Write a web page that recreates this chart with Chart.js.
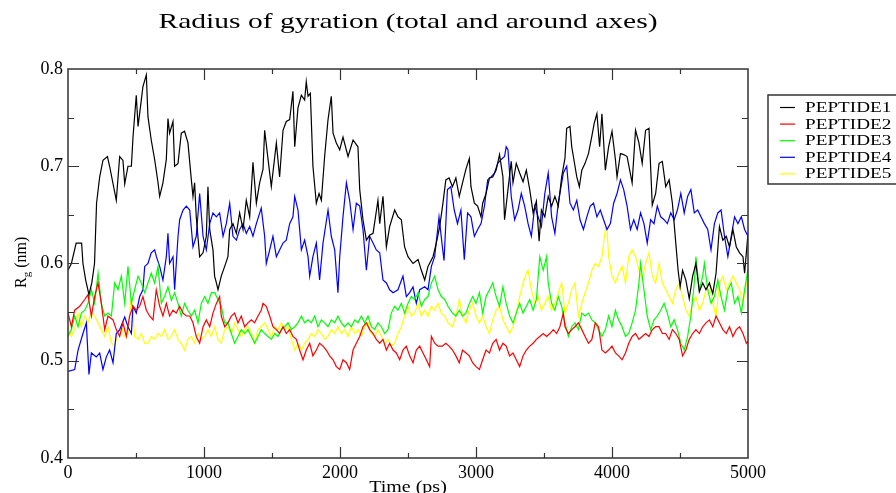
<!DOCTYPE html>
<html lang="en">
<head>
<meta charset="UTF-8">
<title>Radius of gyration</title>
<script src="https://cdn.jsdelivr.net/npm/chart.js"></script>
<style>
  html, body {margin:0; padding:0; background:#fff;}
  canvas {display:block;}
</style>
</head>
<body>
<canvas id="rg" width="896" height="493"></canvas>
<script>
// [time (ps), Rg (nm)]
const PEPTIDE1 = [[0,0.593],[25,0.600],[60,0.621],[100,0.621],[110,0.600],[130,0.583],[154,0.568],[175,0.580],[195,0.600],
  [210,0.662],[233,0.689],[257,0.706],[290,0.710],[306,0.700],[355,0.665],[380,0.710],[404,0.706],[417,0.682],[441,0.700],
  [466,0.700],[478,0.730],[502,0.773],[515,0.741],[539,0.768],[551,0.782],[576,0.794],[588,0.751],[612,0.727],[637,0.707],
  [662,0.683],[674,0.669],[698,0.683],[723,0.707],[735,0.749],[747,0.734],[772,0.746],[784,0.700],[809,0.703],[833,0.734],
  [857,0.736],[882,0.724],[907,0.686],[919,0.669],[931,0.683],[943,0.648],[968,0.607],[993,0.611],[1017,0.628],[1029,0.679],
  [1042,0.635],[1066,0.614],[1078,0.587],[1091,0.580],[1103,0.573],[1127,0.587],[1152,0.597],[1176,0.607],[1189,0.635],
  [1213,0.641],[1238,0.631],[1262,0.652],[1287,0.635],[1311,0.665],[1336,0.648],[1360,0.704],[1385,0.662],[1409,0.683],
  [1434,0.697],[1446,0.737],[1471,0.707],[1495,0.679],[1532,0.724],[1556,0.689],[1581,0.737],[1605,0.746],[1630,0.748],
  [1654,0.777],[1667,0.720],[1691,0.760],[1716,0.773],[1740,0.768],[1752,0.787],[1765,0.772],[1782,0.775],[1801,0.700],
  [1826,0.662],[1846,0.672],[1863,0.665],[1887,0.710],[1912,0.748],[1936,0.772],[1949,0.734],[1973,0.724],[1998,0.717],
  [2022,0.730],[2059,0.710],[2096,0.727],[2132,0.720],[2145,0.676],[2169,0.645],[2194,0.624],[2218,0.629],[2243,0.631],
  [2279,0.665],[2292,0.641],[2316,0.669],[2341,0.617],[2365,0.638],[2402,0.655],[2426,0.648],[2451,0.645],[2475,0.617],
  [2500,0.607],[2537,0.600],[2574,0.604],[2598,0.593],[2623,0.583],[2647,0.597],[2684,0.607],[2708,0.621],[2733,0.638],
  [2757,0.662],[2778,0.686],[2802,0.688],[2827,0.679],[2852,0.688],[2877,0.669],[2901,0.683],[2926,0.697],[2951,0.708],
  [2963,0.679],[2988,0.662],[3012,0.659],[3037,0.648],[3049,0.662],[3074,0.672],[3099,0.688],[3123,0.689],[3148,0.696],
  [3173,0.712],[3198,0.689],[3210,0.645],[3235,0.676],[3259,0.705],[3272,0.683],[3296,0.703],[3321,0.693],[3346,0.684],
  [3370,0.696],[3395,0.676],[3420,0.652],[3444,0.664],[3464,0.623],[3481,0.655],[3506,0.648],[3531,0.669],[3556,0.659],
  [3580,0.669],[3605,0.659],[3630,0.689],[3654,0.708],[3667,0.739],[3691,0.741],[3704,0.720],[3716,0.710],[3741,0.689],
  [3760,0.679],[3778,0.696],[3802,0.703],[3827,0.713],[3852,0.731],[3869,0.744],[3889,0.754],[3909,0.720],[3926,0.754],
  [3951,0.696],[3975,0.720],[4000,0.736],[4025,0.707],[4037,0.689],[4062,0.713],[4086,0.712],[4111,0.710],[4148,0.683],
  [4173,0.737],[4198,0.724],[4222,0.703],[4247,0.737],[4272,0.739],[4296,0.660],[4321,0.672],[4346,0.703],[4370,0.705],
  [4395,0.679],[4420,0.686],[4444,0.662],[4457,0.641],[4469,0.621],[4486,0.593],[4501,0.576],[4519,0.593],[4543,0.583],
  [4568,0.564],[4593,0.587],[4617,0.600],[4642,0.571],[4667,0.580],[4691,0.573],[4716,0.580],[4741,0.569],[4765,0.590],
  [4790,0.638],[4815,0.624],[4840,0.628],[4864,0.617],[4889,0.635],[4914,0.617],[4938,0.611],[4963,0.607],[4975,0.590],
  [5000,0.631]];

const PEPTIDE2 = [[0,0.549],[25,0.535],[49,0.552],[86,0.556],[123,0.563],[147,0.568],[172,0.546],[196,0.566],[221,0.580],
  [245,0.559],[270,0.532],[294,0.546],[331,0.542],[355,0.532],[380,0.525],[404,0.539],[429,0.525],[453,0.546],[478,0.556],
  [502,0.552],[527,0.556],[551,0.566],[576,0.552],[600,0.546],[625,0.542],[649,0.573],[674,0.556],[698,0.546],[723,0.559],
  [747,0.546],[772,0.552],[796,0.549],[821,0.556],[846,0.549],[870,0.546],[895,0.546],[919,0.539],[943,0.525],[968,0.518],
  [993,0.535],[1017,0.542],[1042,0.535],[1066,0.549],[1091,0.559],[1115,0.566],[1127,0.546],[1152,0.535],[1176,0.539],
  [1201,0.546],[1225,0.549],[1250,0.539],[1274,0.546],[1299,0.535],[1323,0.539],[1348,0.542],[1372,0.539],[1397,0.546],
  [1421,0.552],[1434,0.559],[1458,0.556],[1483,0.546],[1507,0.535],[1532,0.532],[1556,0.528],[1581,0.535],[1605,0.528],
  [1630,0.532],[1654,0.525],[1679,0.522],[1703,0.511],[1728,0.501],[1752,0.511],[1777,0.518],[1801,0.505],[1826,0.511],
  [1850,0.518],[1875,0.515],[1899,0.511],[1924,0.505],[1949,0.501],[1973,0.494],[1998,0.491],[2022,0.501],[2047,0.498],
  [2071,0.491],[2096,0.511],[2120,0.518],[2145,0.525],[2169,0.535],[2194,0.539],[2218,0.532],[2243,0.528],[2267,0.522],
  [2292,0.518],[2316,0.522],[2341,0.511],[2365,0.518],[2390,0.511],[2414,0.508],[2439,0.501],[2463,0.511],[2488,0.515],
  [2512,0.505],[2537,0.498],[2561,0.511],[2586,0.515],[2610,0.508],[2635,0.501],[2659,0.494],[2672,0.525],[2696,0.518],
  [2721,0.515],[2753,0.515],[2778,0.518],[2802,0.515],[2827,0.511],[2852,0.505],[2877,0.498],[2901,0.511],[2926,0.508],
  [2951,0.505],[2975,0.498],[3000,0.494],[3025,0.491],[3049,0.501],[3074,0.511],[3099,0.508],[3123,0.518],[3148,0.522],
  [3173,0.511],[3198,0.518],[3222,0.515],[3247,0.505],[3272,0.508],[3296,0.501],[3321,0.494],[3346,0.505],[3370,0.511],
  [3395,0.515],[3420,0.518],[3444,0.522],[3469,0.525],[3494,0.528],[3519,0.525],[3543,0.528],[3568,0.532],[3593,0.528],
  [3617,0.535],[3642,0.549],[3654,0.535],[3679,0.528],[3704,0.532],[3728,0.535],[3753,0.539],[3778,0.532],[3802,0.525],
  [3827,0.518],[3852,0.522],[3877,0.539],[3901,0.535],[3926,0.511],[3951,0.508],[3975,0.511],[4000,0.515],[4025,0.508],
  [4049,0.505],[4074,0.501],[4099,0.508],[4123,0.518],[4148,0.525],[4173,0.528],[4198,0.522],[4222,0.525],[4247,0.528],
  [4272,0.525],[4296,0.532],[4321,0.535],[4346,0.535],[4370,0.528],[4395,0.528],[4420,0.522],[4444,0.532],[4469,0.528],
  [4494,0.522],[4519,0.505],[4543,0.511],[4568,0.522],[4593,0.528],[4617,0.532],[4642,0.528],[4667,0.535],[4691,0.539],
  [4716,0.542],[4741,0.535],[4765,0.546],[4790,0.539],[4815,0.532],[4840,0.528],[4864,0.535],[4889,0.525],[4914,0.532],
  [4938,0.535],[4963,0.528],[4988,0.518],[5000,0.520]];

const PEPTIDE3 = [[0,0.525],[25,0.532],[49,0.546],[74,0.535],[98,0.549],[123,0.552],[147,0.559],[172,0.573],[196,0.559],
  [221,0.590],[245,0.559],[270,0.546],[294,0.549],[319,0.546],[343,0.580],[368,0.573],[392,0.587],[417,0.559],[441,0.597],
  [466,0.559],[490,0.573],[515,0.587],[539,0.580],[564,0.570],[588,0.580],[612,0.590],[637,0.580],[662,0.597],[686,0.559],
  [710,0.566],[735,0.576],[760,0.562],[784,0.570],[809,0.559],[833,0.546],[857,0.559],[882,0.552],[907,0.546],[931,0.552],
  [956,0.539],[980,0.559],[1005,0.566],[1029,0.559],[1054,0.570],[1078,0.570],[1103,0.563],[1127,0.556],[1152,0.539],
  [1176,0.539],[1201,0.528],[1225,0.518],[1250,0.525],[1274,0.532],[1299,0.528],[1323,0.532],[1348,0.525],[1372,0.518],
  [1397,0.525],[1421,0.532],[1446,0.528],[1471,0.525],[1495,0.522],[1520,0.528],[1544,0.525],[1569,0.532],[1593,0.535],
  [1618,0.539],[1642,0.532],[1667,0.535],[1691,0.539],[1716,0.546],[1740,0.539],[1765,0.542],[1789,0.539],[1814,0.546],
  [1838,0.535],[1863,0.542],[1887,0.539],[1912,0.535],[1936,0.542],[1961,0.539],[1985,0.546],[2010,0.539],[2034,0.535],
  [2059,0.539],[2083,0.535],[2108,0.542],[2132,0.539],[2157,0.546],[2181,0.539],[2206,0.546],[2230,0.535],[2255,0.532],
  [2279,0.539],[2304,0.535],[2328,0.528],[2353,0.532],[2377,0.549],[2402,0.556],[2426,0.552],[2451,0.559],[2475,0.549],
  [2500,0.559],[2524,0.566],[2549,0.563],[2574,0.570],[2598,0.556],[2623,0.563],[2647,0.566],[2672,0.580],[2696,0.587],
  [2721,0.573],[2745,0.566],[2770,0.563],[2794,0.556],[2827,0.549],[2852,0.546],[2877,0.552],[2901,0.546],[2926,0.549],
  [2951,0.559],[2975,0.566],[3000,0.559],[3025,0.570],[3049,0.549],[3074,0.566],[3099,0.573],[3123,0.580],[3148,0.566],
  [3173,0.556],[3198,0.576],[3222,0.559],[3247,0.546],[3272,0.539],[3296,0.549],[3321,0.559],[3346,0.549],[3370,0.556],
  [3395,0.563],[3420,0.552],[3444,0.563],[3469,0.607],[3494,0.593],[3519,0.607],[3531,0.580],[3556,0.559],[3580,0.552],
  [3605,0.566],[3630,0.556],[3654,0.539],[3679,0.525],[3704,0.535],[3728,0.539],[3753,0.532],[3778,0.549],[3802,0.546],
  [3827,0.549],[3852,0.542],[3877,0.539],[3901,0.532],[3926,0.525],[3951,0.532],[3975,0.546],[4000,0.535],[4025,0.552],
  [4049,0.542],[4074,0.535],[4099,0.525],[4123,0.528],[4148,0.539],[4173,0.552],[4198,0.580],[4210,0.600],[4235,0.573],
  [4259,0.546],[4284,0.532],[4309,0.542],[4333,0.546],[4358,0.552],[4383,0.559],[4407,0.549],[4432,0.535],[4457,0.542],
  [4481,0.532],[4506,0.518],[4531,0.511],[4556,0.525],[4580,0.546],[4605,0.580],[4617,0.607],[4642,0.573],[4667,0.587],
  [4679,0.600],[4704,0.573],[4728,0.559],[4753,0.566],[4778,0.583],[4802,0.566],[4827,0.552],[4852,0.573],[4877,0.580],
  [4901,0.559],[4926,0.566],[4951,0.549],[4975,0.573],[5000,0.594]];

const PEPTIDE4 = [[0,0.489],[49,0.491],[74,0.511],[110,0.528],[135,0.539],[154,0.486],[172,0.508],[208,0.504],[233,0.508],
  [257,0.491],[282,0.504],[306,0.511],[331,0.498],[355,0.528],[380,0.532],[417,0.545],[441,0.535],[466,0.528],[478,0.556],
  [502,0.549],[527,0.566],[551,0.573],[564,0.597],[588,0.600],[612,0.611],[637,0.614],[650,0.607],[674,0.597],[698,0.583],
  [723,0.607],[735,0.631],[747,0.600],[772,0.607],[784,0.573],[809,0.628],[821,0.645],[846,0.655],[870,0.659],[895,0.655],
  [919,0.617],[943,0.628],[968,0.672],[993,0.628],[1017,0.614],[1042,0.641],[1066,0.652],[1091,0.648],[1115,0.652],
  [1140,0.628],[1164,0.641],[1189,0.662],[1213,0.628],[1238,0.624],[1262,0.635],[1287,0.641],[1311,0.631],[1336,0.638],
  [1360,0.628],[1385,0.641],[1421,0.657],[1446,0.628],[1458,0.600],[1483,0.614],[1507,0.628],[1532,0.607],[1556,0.614],
  [1581,0.621],[1605,0.624],[1630,0.641],[1654,0.648],[1667,0.669],[1691,0.655],[1716,0.614],[1740,0.624],[1765,0.607],
  [1777,0.587],[1801,0.607],[1826,0.621],[1850,0.583],[1875,0.621],[1912,0.655],[1936,0.628],[1961,0.614],[1985,0.570],
  [1998,0.607],[2022,0.648],[2047,0.683],[2071,0.665],[2096,0.635],[2120,0.662],[2145,0.659],[2169,0.635],[2194,0.593],
  [2218,0.628],[2243,0.621],[2267,0.614],[2292,0.611],[2316,0.583],[2341,0.580],[2365,0.573],[2390,0.570],[2426,0.573],
  [2463,0.587],[2488,0.566],[2512,0.570],[2537,0.576],[2561,0.559],[2586,0.573],[2623,0.576],[2647,0.573],[2672,0.597],
  [2696,0.607],[2728,0.648],[2753,0.617],[2765,0.603],[2790,0.676],[2815,0.679],[2840,0.655],[2864,0.641],[2889,0.655],
  [2914,0.604],[2938,0.652],[2963,0.648],[2988,0.628],[3012,0.635],[3037,0.641],[3062,0.659],[3086,0.686],[3111,0.689],
  [3136,0.693],[3160,0.703],[3185,0.707],[3210,0.710],[3222,0.720],[3235,0.717],[3259,0.669],[3284,0.645],[3309,0.655],
  [3333,0.672],[3358,0.659],[3383,0.641],[3407,0.628],[3432,0.659],[3457,0.648],[3481,0.638],[3506,0.672],[3531,0.693],
  [3556,0.648],[3580,0.631],[3605,0.662],[3642,0.693],[3667,0.700],[3691,0.662],[3716,0.655],[3741,0.665],[3765,0.645],
  [3790,0.635],[3815,0.648],[3840,0.659],[3864,0.662],[3889,0.648],[3914,0.655],[3938,0.645],[3963,0.635],[3988,0.641],
  [4012,0.662],[4037,0.672],[4062,0.686],[4086,0.676],[4111,0.659],[4136,0.635],[4160,0.645],[4185,0.635],[4210,0.652],
  [4235,0.641],[4259,0.621],[4284,0.645],[4309,0.641],[4333,0.659],[4358,0.648],[4383,0.645],[4407,0.641],[4432,0.652],
  [4457,0.645],[4481,0.655],[4506,0.672],[4531,0.652],[4556,0.669],[4580,0.676],[4605,0.652],[4630,0.655],[4654,0.648],
  [4679,0.641],[4704,0.635],[4728,0.614],[4753,0.641],[4778,0.652],[4802,0.655],[4827,0.628],[4852,0.607],[4877,0.628],
  [4901,0.648],[4926,0.641],[4951,0.648],[4975,0.635],[5000,0.628]];

const PEPTIDE5 = [[0,0.535],[25,0.525],[49,0.532],[74,0.549],[98,0.535],[123,0.546],[147,0.539],[172,0.549],[196,0.546],
  [221,0.539],[245,0.532],[270,0.525],[294,0.535],[319,0.518],[343,0.515],[368,0.528],[392,0.535],[417,0.525],[441,0.528],
  [466,0.566],[490,0.525],[515,0.522],[539,0.528],[564,0.518],[588,0.518],[612,0.525],[637,0.522],[662,0.528],[686,0.525],
  [710,0.532],[735,0.522],[760,0.525],[784,0.532],[809,0.522],[833,0.518],[857,0.511],[882,0.522],[907,0.525],[931,0.518],
  [956,0.528],[980,0.522],[1005,0.525],[1029,0.532],[1054,0.525],[1078,0.535],[1103,0.522],[1127,0.518],[1152,0.532],
  [1176,0.535],[1201,0.528],[1225,0.539],[1250,0.532],[1274,0.525],[1299,0.532],[1323,0.535],[1348,0.528],[1372,0.518],
  [1397,0.532],[1421,0.535],[1446,0.539],[1471,0.532],[1495,0.525],[1520,0.535],[1544,0.532],[1569,0.539],[1593,0.532],
  [1618,0.535],[1642,0.522],[1667,0.511],[1691,0.518],[1716,0.511],[1740,0.518],[1765,0.522],[1789,0.528],[1814,0.525],
  [1838,0.532],[1863,0.528],[1887,0.522],[1912,0.525],[1936,0.532],[1961,0.528],[1985,0.535],[2010,0.528],[2034,0.532],
  [2059,0.525],[2083,0.535],[2108,0.528],[2132,0.532],[2157,0.525],[2181,0.535],[2206,0.539],[2230,0.528],[2255,0.525],
  [2279,0.532],[2304,0.525],[2328,0.518],[2353,0.522],[2377,0.515],[2402,0.518],[2426,0.528],[2451,0.535],[2475,0.546],
  [2500,0.556],[2524,0.546],[2549,0.549],[2574,0.559],[2598,0.546],[2623,0.552],[2647,0.546],[2672,0.556],[2696,0.552],
  [2721,0.559],[2745,0.549],[2770,0.546],[2794,0.539],[2827,0.535],[2852,0.546],[2877,0.563],[2901,0.546],[2926,0.539],
  [2951,0.552],[2975,0.559],[3000,0.546],[3025,0.539],[3049,0.546],[3074,0.535],[3099,0.528],[3123,0.542],[3148,0.552],
  [3173,0.556],[3198,0.542],[3222,0.535],[3247,0.528],[3272,0.535],[3296,0.549],[3321,0.566],[3346,0.580],[3370,0.590],
  [3383,0.593],[3407,0.573],[3432,0.559],[3457,0.566],[3481,0.552],[3506,0.559],[3531,0.566],[3556,0.552],[3580,0.559],
  [3605,0.570],[3630,0.580],[3654,0.549],[3679,0.559],[3704,0.573],[3728,0.580],[3753,0.546],[3778,0.559],[3802,0.570],
  [3827,0.580],[3852,0.593],[3877,0.600],[3901,0.597],[3926,0.607],[3951,0.635],[3963,0.638],[3975,0.607],[4000,0.587],
  [4025,0.580],[4049,0.590],[4074,0.597],[4099,0.580],[4123,0.607],[4148,0.614],[4173,0.607],[4198,0.593],[4222,0.583],
  [4247,0.600],[4272,0.611],[4296,0.587],[4321,0.580],[4346,0.600],[4370,0.580],[4395,0.573],[4420,0.566],[4444,0.559],
  [4469,0.573],[4494,0.580],[4519,0.566],[4543,0.552],[4568,0.546],[4593,0.559],[4617,0.566],[4642,0.552],[4667,0.559],
  [4691,0.573],[4716,0.580],[4741,0.559],[4765,0.546],[4790,0.580],[4815,0.587],[4840,0.573],[4864,0.580],[4889,0.587],
  [4914,0.580],[4938,0.573],[4963,0.559],[4988,0.580],[5000,0.575]];

const NAMES  = ['PEPTIDE1', 'PEPTIDE2', 'PEPTIDE3', 'PEPTIDE4', 'PEPTIDE5'];
const SERIES = [PEPTIDE1, PEPTIDE2, PEPTIDE3, PEPTIDE4, PEPTIDE5];
const COLORS = ['#000000', '#ff0000', '#00ff00', '#0000ff', '#ffff00'];

const X_TICKS = [0, 1000, 2000, 3000, 4000, 5000];
const Y_TICKS = [0.4, 0.5, 0.6, 0.7, 0.8];

const SERIF = '"Liberation Serif", "DejaVu Serif", serif';
const FRAME = '#333';

// grace output is wider than tall, so text gets stretched sideways
function wideText(ctx, str, x, y, size, sx, align) {
  ctx.save();
  ctx.font = size + 'px ' + SERIF;
  ctx.fillStyle = '#000';
  ctx.textAlign = align || 'left';
  ctx.textBaseline = 'alphabetic';
  ctx.translate(x, y);
  ctx.scale(sx, 1);
  ctx.fillText(str, 0, 0);
  ctx.restore();
}

const gracePlugin = {
  id: 'grace',
  afterDraw(chart) {
    const {ctx, chartArea: a, scales: {x, y}} = chart;
    ctx.save();

    // frame
    ctx.strokeStyle = FRAME;
    ctx.lineWidth = 1.5;
    ctx.strokeRect(a.left, a.top, a.right - a.left, a.bottom - a.top);

    // inward ticks on all four sides
    ctx.lineWidth = 1.2;
    ctx.beginPath();
    for (let t = 500; t < 5000; t += 500) {
      const px = Math.round(x.getPixelForValue(t)) + 0.5;
      const len = t % 1000 === 0 ? 11 : 5;
      ctx.moveTo(px, a.bottom); ctx.lineTo(px, a.bottom - len);
      ctx.moveTo(px, a.top);    ctx.lineTo(px, a.top + len);
    }
    for (let k = 1; k < 8; k++) {
      const py = Math.round(y.getPixelForValue(0.4 + k * 0.05)) + 0.5;
      const len = k % 2 === 0 ? 11 : 6;
      ctx.moveTo(a.left, py);  ctx.lineTo(a.left + len, py);
      ctx.moveTo(a.right, py); ctx.lineTo(a.right - len, py);
    }
    ctx.stroke();

    // title
    ctx.font = '21px ' + SERIF;
    const title = 'Radius of gyration (total and around axes)';
    const tw = ctx.measureText(title).width;
    wideText(ctx, title, (a.left + a.right) / 2, 28, 21, 499 / tw, 'center');

    // x axis title
    wideText(ctx, 'Time (ps)', (a.left + a.right) / 2, 492, 16, 1.25, 'center');

    // y axis title R_g (nm), rotated
    ctx.save();
    ctx.translate(26, 288);
    ctx.rotate(-Math.PI / 2);
    ctx.fillStyle = '#000';
    ctx.textBaseline = 'alphabetic';
    ctx.font = '16px ' + SERIF;
    ctx.fillText('R', 0, 0);
    let w = ctx.measureText('R').width;
    ctx.font = '11px ' + SERIF;
    ctx.fillText('g', w, 4);
    w += ctx.measureText('g').width;
    ctx.font = '16px ' + SERIF;
    ctx.fillText(' (nm)', w, 0);
    ctx.restore();

    // legend box
    const lx = 768, ly = 95, lh = 89, rowH = 16.6;
    ctx.strokeStyle = FRAME;
    ctx.lineWidth = 1.5;
    ctx.strokeRect(lx, ly, 140, lh);
    chart.data.datasets.forEach((ds, i) => {
      const ry = ly + 12 + i * rowH;
      ctx.strokeStyle = ds.borderColor;
      ctx.lineWidth = 1.2;
      ctx.beginPath();
      ctx.moveTo(780, ry + 0.5); ctx.lineTo(795, ry + 0.5);
      ctx.stroke();
      wideText(ctx, ds.label, 805, ry + 5, 15, 1.28, 'left');
    });

    ctx.restore();
  }
};

const datasets = NAMES.map((name, i) => ({
  label: name,
  data: SERIES[i].map(p => ({x: p[0], y: p[1]})),
  borderColor: COLORS[i],
  borderWidth: 1.2,
  pointRadius: 0,
  fill: false,
  tension: 0
}));

new Chart(document.getElementById('rg'), {
  type: 'line',
  data: {datasets},
  options: {
    responsive: false,
    animation: false,
    layout: {padding: {top: 69, right: 148, left: 0, bottom: 0}},
    plugins: {legend: {display: false}, tooltip: {enabled: false}},
    scales: {
      x: {
        type: 'linear', min: 0, max: 5000,
        afterFit: s => { s.height = 35; },
        afterBuildTicks: s => { s.ticks = X_TICKS.map(v => ({value: v})); },
        grid: {display: false, drawTicks: false},
        border: {display: false},
        ticks: {color: '#000', padding: 4, maxRotation: 0,
                font: {family: SERIF, size: 18},
                callback: v => String(v)}
      },
      y: {
        min: 0.4, max: 0.8,
        afterFit: s => { s.width = 68; },
        afterBuildTicks: s => { s.ticks = Y_TICKS.map(v => ({value: v})); },
        grid: {display: false, drawTicks: false},
        border: {display: false},
        ticks: {color: '#000', padding: 5,
                font: {family: SERIF, size: 18},
                callback: v => Number(v).toFixed(1)}
      }
    }
  },
  plugins: [gracePlugin]
});
</script>
</body>
</html>
